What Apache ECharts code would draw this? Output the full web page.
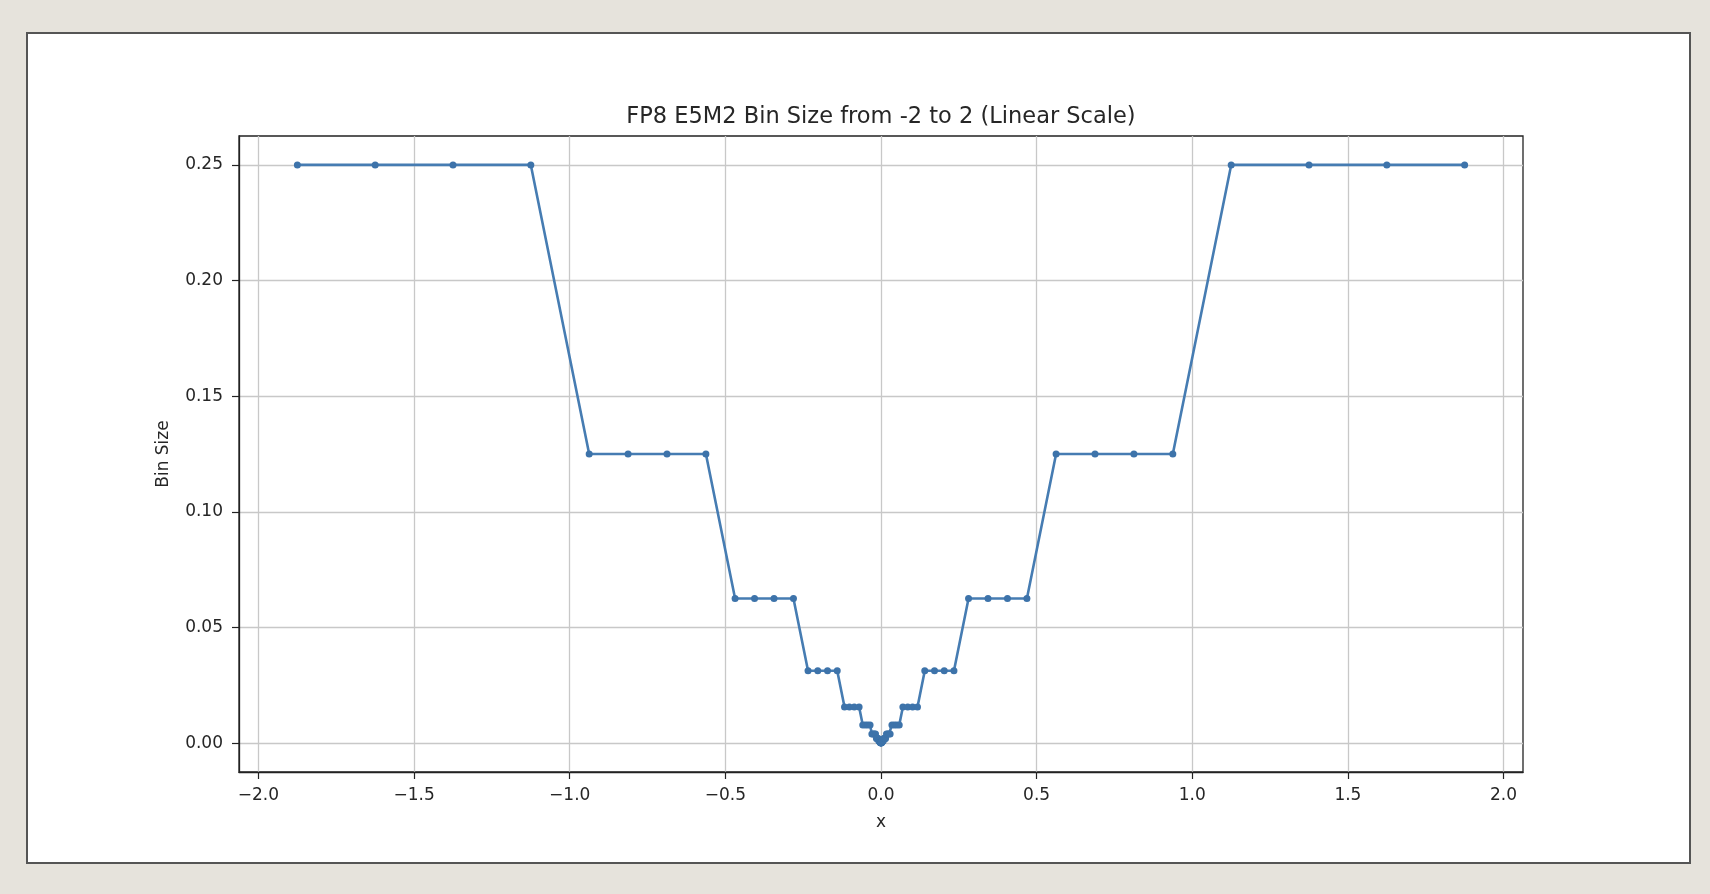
<!DOCTYPE html>
<html>
<head>
<meta charset="utf-8">
<script src="https://cdn.jsdelivr.net/npm/echarts@6/dist/echarts.min.js"></script>
<style>
html,body{margin:0;padding:0;background:#e6e3dc;}
#chart{width:1710px;height:894px;}
</style>
</head>
<body>
<div id="chart"></div>
<script>
// Bin centres (midpoints between neighbouring FP8 E5M2 values)
var binCenters = [
  -1.875, -1.625, -1.375, -1.125,
  -0.9375, -0.8125, -0.6875, -0.5625,
  -0.46875, -0.40625, -0.34375, -0.28125,
  -0.234375, -0.203125, -0.171875, -0.140625,
  -0.1171875, -0.1015625, -0.0859375, -0.0703125,
  -0.05859375, -0.05078125, -0.04296875, -0.03515625,
  -0.029296875, -0.025390625, -0.021484375, -0.017578125,
  -0.0146484375, -0.0126953125, -0.0107421875, -0.0087890625,
  -0.0073242188, -0.0063476563, -0.0053710938, -0.0043945313,
  -0.0036621094, -0.0031738281, -0.0026855469, -0.0021972656,
  -0.0018310547, -0.0015869141, -0.0013427734, -0.0010986328,
  -0.0009155273, -0.0007934570, -0.0006713867, -0.0005493164,
  0.0,
  0.0005493164, 0.0006713867, 0.0007934570, 0.0009155273,
  0.0010986328, 0.0013427734, 0.0015869141, 0.0018310547,
  0.0021972656, 0.0026855469, 0.0031738281, 0.0036621094,
  0.0043945313, 0.0053710938, 0.0063476563, 0.0073242188,
  0.0087890625, 0.0107421875, 0.0126953125, 0.0146484375,
  0.017578125, 0.021484375, 0.025390625, 0.029296875,
  0.03515625, 0.04296875, 0.05078125, 0.05859375,
  0.0703125, 0.0859375, 0.1015625, 0.1171875,
  0.140625, 0.171875, 0.203125, 0.234375,
  0.28125, 0.34375, 0.40625, 0.46875,
  0.5625, 0.6875, 0.8125, 0.9375,
  1.125, 1.375, 1.625, 1.875
];
var binSizes = [
  0.25, 0.25, 0.25, 0.25,
  0.125, 0.125, 0.125, 0.125,
  0.0625, 0.0625, 0.0625, 0.0625,
  0.03125, 0.03125, 0.03125, 0.03125,
  0.015625, 0.015625, 0.015625, 0.015625,
  0.0078125, 0.0078125, 0.0078125, 0.0078125,
  0.00390625, 0.00390625, 0.00390625, 0.00390625,
  0.001953125, 0.001953125, 0.001953125, 0.001953125,
  0.0009765625, 0.0009765625, 0.0009765625, 0.0009765625,
  0.00048828, 0.00048828, 0.00048828, 0.00048828,
  0.00024414, 0.00024414, 0.00024414, 0.00024414,
  0.00012207, 0.00012207, 0.00012207, 0.00012207,
  0.0,
  0.00012207, 0.00012207, 0.00012207, 0.00012207,
  0.00024414, 0.00024414, 0.00024414, 0.00024414,
  0.00048828, 0.00048828, 0.00048828, 0.00048828,
  0.0009765625, 0.0009765625, 0.0009765625, 0.0009765625,
  0.001953125, 0.001953125, 0.001953125, 0.001953125,
  0.00390625, 0.00390625, 0.00390625, 0.00390625,
  0.0078125, 0.0078125, 0.0078125, 0.0078125,
  0.015625, 0.015625, 0.015625, 0.015625,
  0.03125, 0.03125, 0.03125, 0.03125,
  0.0625, 0.0625, 0.0625, 0.0625,
  0.125, 0.125, 0.125, 0.125,
  0.25, 0.25, 0.25, 0.25
];
var xTicks = [-2.0, -1.5, -1.0, -0.5, 0.0, 0.5, 1.0, 1.5, 2.0];
var yTicks = [0.0, 0.05, 0.10, 0.15, 0.20, 0.25];
var chartTitle = 'FP8 E5M2 Bin Size from -2 to 2 (Linear Scale)';
var xName = 'x';
var yName = 'Bin Size';

var FONT = '"DejaVu Sans", sans-serif';
var TXT = '#262626';
function fmt(v, d) { return v.toFixed(d).replace('-', '\u2212'); }

var chart = echarts.init(document.getElementById('chart'), null, {renderer: 'canvas'});
var points = binCenters.map(function (x, i) { return [x, binSizes[i]]; });

chart.setOption({
  backgroundColor: '#e6e3dc',
  animation: false,
  graphic: [
    {
      type: 'rect', z: -10, silent: true,
      shape: {x: 27, y: 33, width: 1663, height: 830},
      style: {fill: '#ffffff', stroke: '#555555', lineWidth: 2}
    },
    {
      type: 'text', z: 10, silent: true,
      style: {
        text: chartTitle, x: 881, y: 117, align: 'center', verticalAlign: 'middle',
        font: '22.5px ' + FONT, fill: TXT
      }
    }
  ],
  grid: {
    left: 239, top: 136, width: 1284, height: 636,
    show: true, borderColor: '#222222', borderWidth: 1.3, backgroundColor: 'transparent'
  },
  xAxis: {
    type: 'value', min: -2.0625, max: 2.0625,
    name: xName, nameLocation: 'middle', nameGap: 42,
    nameTextStyle: {fontFamily: FONT, fontSize: 17, color: TXT},
    axisLine: {show: true, onZero: false, lineStyle: {color: '#222222', width: 1.3}},
    axisTick: {show: true, length: 7, customValues: xTicks, lineStyle: {color: '#222222', width: 1.2}},
    axisLabel: {show: true, margin: 15, customValues: xTicks, fontFamily: FONT, fontSize: 17, color: TXT,
      formatter: function (v) { return fmt(v, 1); }},
    splitLine: {show: true, lineStyle: {color: '#c8c8c8', width: 1.3}}
  },
  yAxis: {
    type: 'value', min: -0.0125, max: 0.2625,
    name: yName, nameLocation: 'middle', nameGap: 67, nameRotate: 90,
    nameTextStyle: {fontFamily: FONT, fontSize: 17, color: TXT},
    axisLine: {show: true, onZero: false, lineStyle: {color: '#222222', width: 1.3}},
    axisTick: {show: true, length: 7, customValues: yTicks, lineStyle: {color: '#222222', width: 1.2}},
    axisLabel: {show: true, margin: 16, customValues: yTicks, fontFamily: FONT, fontSize: 17, color: TXT,
      formatter: function (v) { return fmt(v, 2); }},
    splitLine: {show: true, lineStyle: {color: '#c8c8c8', width: 1.3}}
  },
  series: [{
    type: 'line',
    data: points,
    symbol: 'circle',
    symbolSize: 7,
    showSymbol: true,
    showAllSymbol: true,
    clip: true,
    lineStyle: {color: '#467cb2', width: 2.6},
    itemStyle: {color: '#3d73aa', borderWidth: 0}
  }]
});
</script>
</body>
</html>
